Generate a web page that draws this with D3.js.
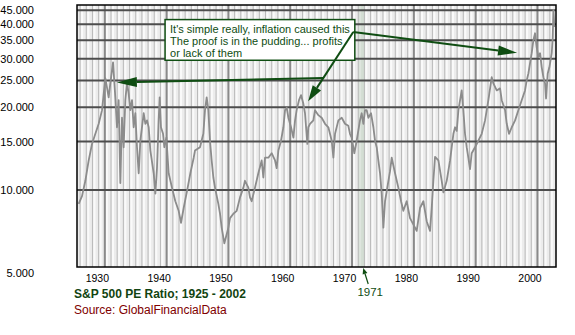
<!DOCTYPE html>
<html><head><meta charset="utf-8">
<script src="https://cdn.jsdelivr.net/npm/d3@7"></script>
<style>body{margin:0;background:#fff;} svg{display:block;font-family:"Liberation Sans",Arial,sans-serif;}</style>
</head><body><svg id="c" width="575" height="335"></svg>
<script>
// ---- data ----
const years = [1925.77,1926.31,1926.85,1927.39,1927.93,1928.47,1929.01,1929.55,1930.08,1930.35,1930.62,1930.89,1931.33,1931.70,1931.97,1932.24,1932.51,1932.78,1933.05,1933.32,1933.59,1933.86,1934.13,1934.40,1934.67,1934.94,1935.21,1935.48,1935.75,1936.29,1936.56,1936.83,1937.10,1937.37,1937.91,1938.18,1938.44,1938.71,1938.88,1939.09,1939.42,1939.63,1939.96,1940.33,1940.87,1941.41,1941.95,1942.33,1942.76,1943.30,1943.84,1944.38,1944.59,1945.40,1945.94,1946.21,1946.48,1946.75,1947.02,1947.29,1947.56,1947.83,1948.37,1948.64,1948.91,1949.34,1949.72,1949.99,1950.26,1950.80,1951.34,1951.88,1952.42,1952.68,1953.22,1953.49,1953.76,1954.30,1954.84,1955.38,1955.65,1955.92,1956.46,1957.00,1957.54,1957.81,1958.08,1958.51,1958.89,1959.16,1959.43,1959.70,1960.13,1960.51,1960.78,1961.04,1961.42,1961.75,1962.12,1962.39,1962.77,1962.93,1963.20,1963.74,1964.01,1964.55,1965.09,1965.63,1966.17,1966.71,1966.98,1967.25,1967.79,1968.33,1968.86,1969.40,1969.67,1969.94,1970.37,1970.75,1971.29,1971.56,1971.83,1972.10,1972.37,1972.64,1973.07,1973.45,1973.72,1973.99,1974.26,1974.53,1974.80,1975.07,1975.34,1975.61,1976.15,1976.42,1976.96,1977.49,1977.93,1978.30,1978.84,1979.38,1980.19,1980.46,1981.00,1981.54,1982.08,1982.62,1982.89,1983.16,1983.43,1983.97,1984.51,1984.78,1985.32,1985.86,1986.40,1986.67,1986.94,1987.21,1987.48,1987.74,1988.01,1988.28,1988.55,1988.82,1989.09,1989.36,1989.90,1990.44,1990.98,1991.52,1992.06,1992.60,1992.87,1993.41,1993.95,1994.22,1994.76,1995.03,1995.40,1995.84,1996.38,1996.91,1997.45,1997.99,1998.26,1998.53,1998.80,1999.07,1999.34,1999.61,1999.88,2000.15,2000.42,2000.69,2000.96,2001.23,2001.39,2001.66,2001.93,2002.31,2002.47,2002.58,2002.74];
const peRatio = [8.9,9.5,10.8,12.8,14.7,16.0,17.4,19.5,25.5,23.6,21.7,24.4,29.1,21.7,16.9,21.2,10.6,18.3,14.3,21.2,24.6,22.4,19.5,21.2,16.9,19.0,14.3,11.5,15.1,19.0,17.4,17.9,16.9,13.9,11.5,9.7,12.0,17.9,21.7,16.9,16.0,14.3,15.5,11.5,10.2,9.1,8.4,7.6,8.6,9.9,11.5,13.1,13.9,14.3,16.0,19.5,21.7,19.5,15.1,12.8,11.1,10.2,8.9,8.2,7.3,6.4,6.9,7.3,7.9,8.2,8.4,9.4,10.2,10.8,10.2,9.4,9.1,10.2,11.5,12.8,11.1,13.1,13.1,13.6,12.8,12.0,13.9,15.1,16.9,19.5,19.9,18.3,16.9,15.5,17.9,19.5,21.2,22.1,20.6,19.0,14.7,16.9,17.4,17.9,19.5,18.7,18.3,17.4,16.9,15.1,13.1,16.0,17.9,18.3,17.4,17.1,16.0,15.5,13.6,15.1,17.9,19.0,17.4,19.5,19.5,18.3,19.0,16.9,15.1,14.3,12.8,11.5,9.7,7.3,9.1,9.9,11.7,13.1,11.5,10.2,9.1,8.4,9.1,7.9,7.3,7.1,8.6,9.1,7.7,7.1,8.6,10.8,13.2,12.8,10.8,9.8,10.8,12.8,16.0,16.9,16.4,19.5,21.2,23.0,19.5,16.0,14.3,13.1,11.9,13.6,14.3,15.1,16.0,17.9,21.2,25.7,24.4,23.0,23.4,21.2,19.5,17.4,16.0,16.9,17.9,19.5,21.2,23.0,25.0,26.5,28.9,31.4,35.0,37.1,33.0,30.4,31.4,27.9,25.7,24.4,21.5,26.5,27.9,31.4,35.9,45.1,39.1];
const yTicks = [5,10,15,20,25,30,35,40,45];
const xTicks = [1930,1940,1950,1960,1970,1980,1990,2000];
const highlightYear = 1971;
const noteLines = ["It's simple really, inflation caused this","The proof is in the pudding... profits","or lack of them"];
const titleText = "S&P 500 PE Ratio; 1925 - 2002";
const sourceText = "Source: GlobalFinancialData";

// ---- layout ----
const L = 77, R = 556, T = 5, B = 267;
const green = "#0f4d12";
const svg = d3.select("#c");
const x = d3.scaleLinear().domain([1925.5, 2003]).range([L, R]);
const y = d3.scaleLog().domain([5.25, 47]).range([B, T]);

// background
svg.append("rect").attr("x", L).attr("y", T).attr("width", R - L).attr("height", B - T).attr("fill", "#ececec");
// highlight band
svg.append("rect").attr("x", x(highlightYear)).attr("y", T).attr("width", x(highlightYear + 1) - x(highlightYear)).attr("height", B - T).attr("fill", "#d3ddd3");
// yearly stripes
const yrs = d3.range(1926, 2003);
svg.append("g").selectAll("rect").data(yrs).join("rect")
  .attr("x", d => x(d) + 1).attr("y", T).attr("width", 2).attr("height", B - T)
  .attr("fill", "#fafafa").attr("opacity", d => d === highlightYear ? 0.3 : 1);
svg.append("g").selectAll("line").data(yrs).join("line")
  .attr("x1", d => x(d)).attr("x2", d => x(d)).attr("y1", T).attr("y2", B)
  .attr("stroke", "#b9b9b9").attr("stroke-width", 1);
// decade lines
svg.append("g").selectAll("line").data(xTicks).join("line")
  .attr("x1", d => x(d)).attr("x2", d => x(d)).attr("y1", T).attr("y2", B)
  .attr("stroke", "#8a8a8a").attr("stroke-width", 2);
// horizontal grid
svg.append("g").selectAll("line").data(yTicks.filter(v => y(v) < B - 1)).join("line")
  .attr("x1", L).attr("x2", R).attr("y1", d => y(d)).attr("y2", d => y(d))
  .attr("stroke", "#4d4d4d").attr("stroke-width", 2);

// data line
const pts = years.map((yr, i) => [yr, peRatio[i]]);
svg.append("path").datum(pts)
  .attr("d", d3.line().x(d => x(d[0])).y(d => y(d[1])))
  .attr("fill", "none").attr("stroke", "#8c8c8c").attr("stroke-width", 1.8).attr("stroke-linejoin", "round");

// border
svg.append("rect").attr("x", L).attr("y", T).attr("width", R - L).attr("height", B - T)
  .attr("fill", "none").attr("stroke", "#000").attr("stroke-width", 1.5);

// y axis labels
const fmt = d3.format(".3f");
const yAxis = d3.axisLeft(y).tickValues(yTicks).tickFormat(fmt).tickSize(0).tickPadding(0);
const gy = svg.append("g").attr("transform", "translate(34,0)").call(yAxis);
gy.select(".domain").remove();
gy.selectAll("text").attr("font-size", 11).attr("fill", "#000").attr("font-family", "Liberation Sans, Arial, sans-serif");

// x axis labels
const xAxis = d3.axisBottom(x).tickValues(xTicks).tickFormat(d3.format("d")).tickSize(0).tickPadding(0);
const gx = svg.append("g").attr("transform", "translate(-8," + (B + 8) + ")").call(xAxis);
gx.select(".domain").remove();
gx.selectAll("text").attr("font-size", 10.5).attr("fill", "#000").attr("font-family", "Liberation Sans, Arial, sans-serif");

// arrow helper
function arrow(x1, y1, x2, y2, len, hw, w) {
  const a = Math.atan2(y2 - y1, x2 - x1);
  const bx = x2 - len * Math.cos(a), by = y2 - len * Math.sin(a);
  svg.append("line").attr("x1", x1).attr("y1", y1).attr("x2", bx).attr("y2", by)
    .attr("stroke", green).attr("stroke-width", w);
  const px = -Math.sin(a) * hw, py = Math.cos(a) * hw;
  svg.append("polygon").attr("points", [[x2, y2], [bx + px, by + py], [bx - px, by - py]].map(p => p.join(",")).join(" "))
    .attr("fill", green);
}

// annotation box
const bx0 = x(1939.75), bx1 = x(1970.45), by0 = y(41.6), by1 = y(29.6);
svg.append("rect").attr("x", bx0).attr("y", by0).attr("width", bx1 - bx0).attr("height", by1 - by0)
  .attr("fill", "#fff").attr("stroke", green).attr("stroke-width", 1.5);
svg.append("g").selectAll("text").data(noteLines).join("text")
  .attr("x", bx0 + 5).attr("y", (d, i) => by0 + 13 + i * 12.3)
  .attr("font-size", 11).attr("fill", green).text(d => d);

// arrows from the note
const ox = x(1970.2), oy = y(37.5);
const t2x = x(1962.9), t2y = y(21.0);
arrow(ox, oy, t2x, t2y, 16, 5, 2);
const fr = (y(25.5) - oy) / (t2y - oy);
arrow(ox + (t2x - ox) * fr, y(25.5), x(1931.95), y(24.6), 20, 5, 2);
arrow(ox, oy, x(1996.7), y(31.5), 19, 5, 2);

// 1971 label
svg.append("text").attr("x", x(highlightYear) + 12).attr("y", B + 29).attr("text-anchor", "middle")
  .attr("font-size", 11.5).attr("fill", green).text(String(highlightYear));
arrow(x(highlightYear) + 10, B + 17, x(highlightYear) + 5, B + 1, 6, 2.5, 1.2);

// title & source
svg.append("text").attr("x", 74).attr("y", 298).attr("font-size", 12).attr("font-weight", "bold").attr("fill", "#114411").text(titleText);
svg.append("text").attr("x", 74).attr("y", 314).attr("font-size", 12).attr("fill", "#800000").text(sourceText);
</script></body></html>
